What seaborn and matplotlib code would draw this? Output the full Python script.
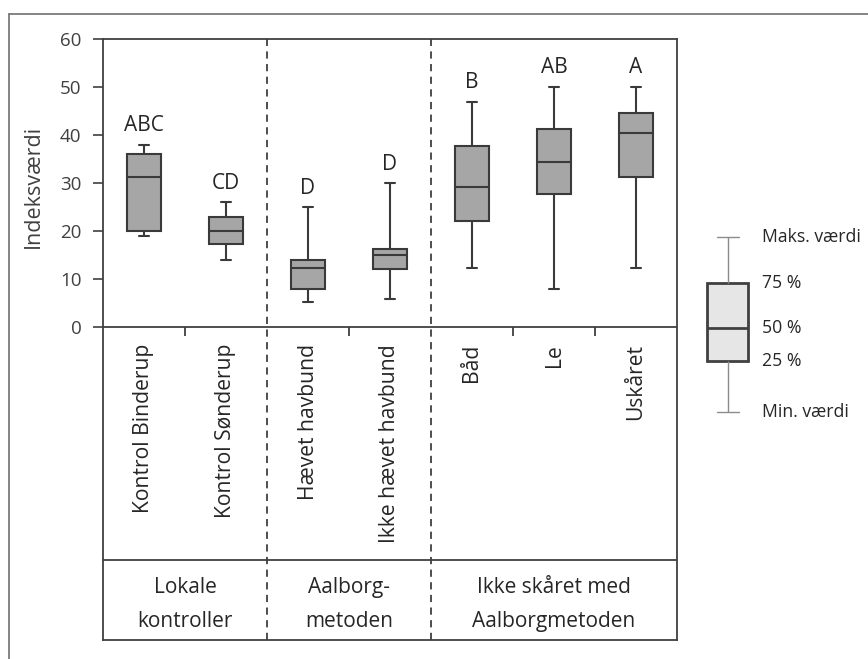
import numpy as np
import pandas as pd
import matplotlib
matplotlib.use('Agg')
import matplotlib.pyplot as plt
from matplotlib.lines import Line2D
import seaborn as sns

# data
categories = ['Kontrol Binderup', 'Kontrol Sønderup', 'Hævet havbund',
              'Ikke hævet havbund', 'Båd', 'Le', 'Uskåret']
mins = [19.0, 14.0, 5.3, 6.0, 12.3, 8.0, 12.3]
q1 = [20.0, 17.3, 8.0, 12.2, 22.2, 27.7, 31.2]
medians = [31.2, 20.0, 12.3, 15.0, 29.2, 34.5, 40.4]
q3 = [36.1, 23.0, 14.1, 16.4, 37.7, 41.3, 44.6]
maxs = [38.0, 26.0, 25.0, 30.0, 47.0, 50.0, 50.0]
letters = ['ABC', 'CD', 'D', 'D', 'B', 'AB', 'A']

groups = ['Lokale\nkontroller', 'Aalborg-\nmetoden', 'Ikke skåret med\nAalborgmetoden']
group_sizes = [2, 2, 3]

legend_values = [0.0, 2.9, 4.8, 7.4, 10.0]
legend_labels = ['Min. værdi', '25 %', '50 %', '75 %', 'Maks. værdi']

# five numbers per box -> quartiles come out exactly
rows = []
for i, cat in enumerate(categories):
    for v in [mins[i], q1[i], medians[i], q3[i], maxs[i]]:
        rows.append({'kategori': cat, 'værdi': v})
df = pd.DataFrame(rows)

sns.set_style('white')
plt.rcParams['font.family'] = ['Open Sans', 'DejaVu Sans']

dark = '#404040'
txt = '#262626'

fig = plt.figure(figsize=(8.68, 6.59), dpi=100)
ax = fig.add_axes([103 / 868, 1 - 640 / 659, 574 / 868, 601 / 659])

sns.boxplot(data=df, x='kategori', y='værdi', order=categories, ax=ax,
            color='#a6a6a6', saturation=1, linecolor='#3a3a3a', linewidth=1.5,
            width=0.415, whis=np.inf, capwidths=0.13)

ax.set_xlim(-0.5, 6.5)
ax.set_ylim(-65, 60)
ax.set_xticks([])
ax.set_yticks(range(0, 61, 10))
ax.tick_params(axis='y', direction='out', length=7.5, width=1.2, color=dark,
               labelsize=13.5, labelcolor=dark, pad=8, left=True)
ax.set_xlabel('')
ax.set_ylabel('Indeksværdi', fontsize=15.5, color=dark)
ax.yaxis.set_label_coords(-0.103, 0.755)

for s in ax.spines.values():
    s.set_color(dark)
    s.set_linewidth(1.3)

ax.axhline(0, color=dark, lw=1.3)
ax.axhline(-48.4, color=dark, lw=1.3)

# dividers between groups
edges = np.cumsum(group_sizes)[:-1] - 0.5
for e in edges:
    ax.axvline(e, color=dark, lw=1.3, linestyle=(0, (4, 3)))

# small ticks between categories inside a group
bounds = [b + 0.5 for b in range(len(categories) - 1) if (b + 0.5) not in edges]
ax.vlines(bounds, -1.8, 0, color=dark, lw=1.3)

for i, cat in enumerate(categories):
    ax.text(i, -3.4, cat, rotation=90, ha='center', va='top', fontsize=15.2, color=txt)
    ax.text(i, maxs[i] + 4, letters[i], ha='center', va='center', fontsize=15, color=txt)

starts = np.concatenate([[0], np.cumsum(group_sizes)[:-1]])
for g, st, n in zip(groups, starts, group_sizes):
    ax.text(st + (n - 1) / 2, -57.6, g, ha='center', va='center', fontsize=15,
            color=txt, linespacing=1.85)

# legend box
lax = fig.add_axes([700 / 868, 1 - 429.5 / 659, 55 / 868, 210 / 659])
sns.boxplot(y=legend_values, ax=lax, color='#e6e6e6', saturation=1, linecolor='#404040',
            linewidth=2, width=0.745, whis=np.inf, capwidths=0.4,
            whiskerprops={'color': '#8c8c8c', 'linewidth': 1},
            capprops={'color': '#8c8c8c', 'linewidth': 1})
lax.set_xlim(-0.5, 0.5)
lax.set_ylim(-1, 11)
lax.axis('off')
for v, lab in zip(legend_values, legend_labels):
    lax.text(0.63, v, lab, ha='left', va='center', fontsize=12.7, color=txt, clip_on=False)

# outer frame (top and left only)
fig.add_artist(Line2D([9 / 868, 1], [1 - 14 / 659, 1 - 14 / 659], color='#707070', lw=1.2))
fig.add_artist(Line2D([9 / 868, 9 / 868], [0, 1 - 14 / 659], color='#707070', lw=1.2))

fig.savefig('out.png', dpi=100)
